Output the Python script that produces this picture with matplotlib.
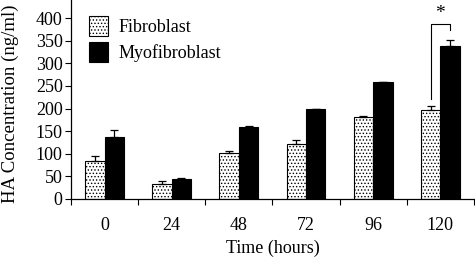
import matplotlib.pyplot as plt
import numpy as np

plt.rcParams['font.family'] = ['Liberation Serif', 'DejaVu Serif']
plt.rcParams['hatch.linewidth'] = 0.6

# Data
hours = ['0', '24', '48', '72', '96', '120']
fibroblast = [83, 33, 101, 122, 182, 196]
fibroblast_err = [11, 7, 5, 8, 1, 10]
myofibroblast = [136, 45, 160, 199, 258, 339]
myofibroblast_err = [16, 1, 1, 0, 1, 13]

x = np.arange(len(hours))
width = 0.29

fig = plt.figure(figsize=(4.75, 2.58), dpi=100)
ax = fig.add_axes([0.1495, 0.2287, 0.848, 0.7713])

ax.bar(x - width / 2, fibroblast, width, color='white', edgecolor='black',
       linewidth=0.8, hatch='.....', label='Fibroblast',
       yerr=[np.zeros(len(x)), fibroblast_err], capsize=3,
       error_kw=dict(elinewidth=0.9, capthick=0.9, ecolor='black'))
ax.bar(x + width / 2, myofibroblast, width, color='black', edgecolor='black',
       linewidth=0.8, label='Myofibroblast',
       yerr=[np.zeros(len(x)), myofibroblast_err], capsize=3,
       error_kw=dict(elinewidth=0.9, capthick=0.9, ecolor='black'))

# significance bracket at 120 h
x1, x2 = x[5] - width / 2, x[5] + width / 2
ax.plot([x1, x1, x2, x2], [220, 387, 387, 373], color='black', linewidth=0.8)
ax.text(x[5], 392, '*', ha='center', va='bottom', fontsize=14)

ax.set_xlim(-0.5, 5.5)
ax.set_ylim(0, 440)
ax.set_yticks(range(0, 401, 50))
ax.set_xticks(x)
ax.set_xticklabels(hours)
ax.set_xticks(np.arange(-0.5, 5.6, 1), minor=True)
ax.tick_params(axis='x', which='major', length=0, pad=13, labelsize=13)
ax.tick_params(axis='x', which='minor', length=4, width=0.8, direction='out')
ax.tick_params(axis='y', length=4, width=0.8, labelsize=13, pad=2)

for s in ['top', 'right']:
    ax.spines[s].set_visible(False)
for s in ['left', 'bottom']:
    ax.spines[s].set_linewidth(0.9)

ax.set_ylabel('HA Concentration (ng/ml)', fontsize=13.5)
ax.yaxis.set_label_coords(-0.13, 0.48)
ax.set_xlabel('Time (hours)', fontsize=13, labelpad=4)

ax.legend(loc='upper left', bbox_to_anchor=(0.045, 0.92), frameon=False,
          fontsize=13, handlelength=1.05, handleheight=1.35, labelspacing=0.3,
          handletextpad=0.55, borderaxespad=0.0, borderpad=0.0)

fig.savefig('out.png', dpi=100)
